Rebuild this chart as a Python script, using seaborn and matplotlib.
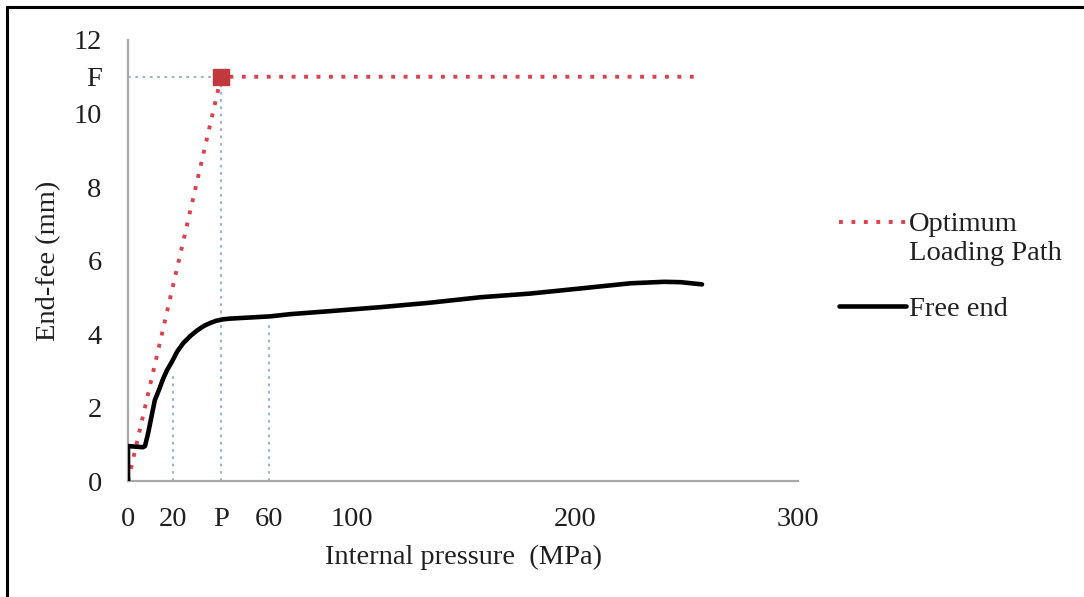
import matplotlib
matplotlib.use("Agg")
import matplotlib.pyplot as plt
import pandas as pd
import seaborn as sns
from matplotlib.lines import Line2D

# Measured free-end response: internal pressure (MPa) vs end feed (mm)
pressure_mpa = [0, 0, 6.7, 7.6, 9.0, 10.5, 12, 14, 15.7, 17.5, 19.7, 22, 24.7,
                28, 31, 34, 36.8, 39.5, 42.6, 46, 52, 63.7, 72.6, 90, 113, 135,
                157.8, 180, 202.7, 225, 240, 247.5, 257]
end_feed_mm = [0, 0.95, 0.92, 0.95, 1.3, 1.75, 2.2, 2.5, 2.78, 3.02, 3.25,
               3.52, 3.75, 3.95, 4.1, 4.22, 4.3, 4.36, 4.4, 4.42, 4.44, 4.48,
               4.54, 4.62, 4.73, 4.85, 5.0, 5.1, 5.24, 5.38, 5.42, 5.41, 5.35]

# Optimum loading path: linear ramp to (P, F), then constant feed
P_OPT = 41.7
F_OPT = 11.0
opt_pressure = [0, P_OPT, 255]
opt_feed = [0, F_OPT, F_OPT]

# Reference guides (pressure, height reached)
guide_pressure = [20, 63]
guide_height = [2.9, 4.25]

x_ticks = [0, 20, P_OPT, 63, 100, 200, 300]
x_tick_labels = ["0", "20", "P", "60", "100", "200", "300"]
y_ticks = [0, 2, 4, 6, 8, 10, F_OPT, 12]
y_tick_labels = ["0", "2", "4", "6", "8", "10", "F", "12"]

sns.set_theme(style="white")
plt.rcParams["font.family"] = ["Liberation Serif", "DejaVu Serif"]
TEXT = "#1f1f1f"
FS = 20.5

fig = plt.figure(figsize=(10.84, 5.97), dpi=100)
ax = fig.add_axes([0.1181, 0.1943, 0.6181, 0.7387])

free_df = pd.DataFrame({"pressure": pressure_mpa, "feed": end_feed_mm})
opt_df = pd.DataFrame({"pressure": opt_pressure, "feed": opt_feed})

guide_kw = dict(color="#9fb0dc", lw=1.5, ls=(0, (1.3, 2.2)), zorder=1)
ax.plot([0, P_OPT], [F_OPT, F_OPT], **guide_kw)
ax.plot([P_OPT, P_OPT], [0, F_OPT], **guide_kw)
for gx, gh in zip(guide_pressure, guide_height):
    ax.plot([gx, gx], [0, gh], **guide_kw)

sns.lineplot(data=opt_df, x="pressure", y="feed", ax=ax, sort=False,
             estimator=None, color="#d9434e", lw=2.8,
             linestyle=(0, (1, 2.2)), label="Optimum\nLoading Path", zorder=3)
ax.plot([P_OPT], [F_OPT], marker="s", ms=11, color="#c2393d", zorder=4)
sns.lineplot(data=free_df, x="pressure", y="feed", ax=ax, sort=False,
             estimator=None, color="black", lw=3.3, label="Free end", zorder=5)

ax.set_xlim(0, 300)
ax.set_ylim(0, 12)
ax.set_xticks(x_ticks)
ax.set_xticklabels(x_tick_labels)
ax.set_yticks(y_ticks)
ax.set_yticklabels(y_tick_labels)
ax.tick_params(axis="x", length=0, pad=19, labelsize=FS, labelcolor=TEXT)
ax.tick_params(axis="y", length=0, pad=19, labelsize=FS, labelcolor=TEXT)
ax.set_xlabel("Internal pressure  (MPa)", fontsize=FS, color=TEXT, labelpad=9)
ax.set_ylabel("End-fee (mm)", fontsize=FS, color=TEXT, labelpad=9)

for side in ("top", "right"):
    ax.spines[side].set_visible(False)
for side in ("left", "bottom"):
    ax.spines[side].set_color("#a8a8a8")
    ax.spines[side].set_linewidth(1.6)

leg = ax.legend(loc="upper left", bbox_to_anchor=(0.7605, 0.668),
                bbox_transform=fig.transFigure, frameon=False, fontsize=FS,
                handlelength=2.35, handletextpad=0.12, labelspacing=1.05,
                borderpad=0, labelcolor=TEXT)
# keep the dotted handle beside the first line of its two-line label
h0 = leg.get_lines()[0]
h0.set_ydata([y + 0.6 * FS for y in h0.get_ydata()])

# frame strokes along the top and left edges of the figure
fig.add_artist(Line2D([0.0065, 1.0], [0.988, 0.988], transform=fig.transFigure,
                      color="black", lw=2.2))
fig.add_artist(Line2D([0.0065, 0.0065], [0.0, 0.988], transform=fig.transFigure,
                      color="black", lw=2.2))

fig.savefig("out.png", dpi=100)
